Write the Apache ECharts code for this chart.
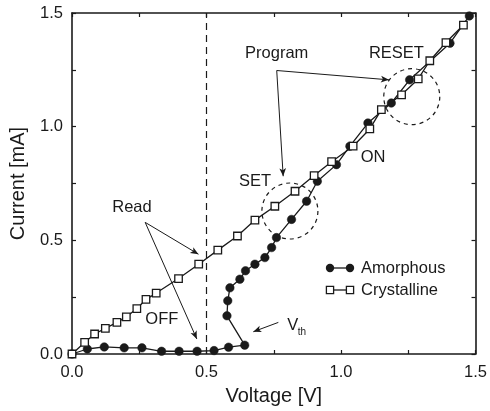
<!DOCTYPE html>
<html>
<head>
<meta charset="utf-8">
<script src="https://cdn.jsdelivr.net/npm/echarts@6/dist/echarts.min.js"></script>
<style>
  html, body { margin: 0; padding: 0; background: #fff; }
  #chart { width: 490px; height: 411px; }
</style>
</head>
<body>
<div id="chart"></div>
<script>
// I–V sweeps of a phase-change cell in its two states
const voltageAmorphous = [0, 0.057, 0.12, 0.194, 0.26, 0.333, 0.398, 0.465, 0.528, 0.582, 0.642,
  0.576, 0.579, 0.587, 0.624, 0.645, 0.68, 0.717, 0.742, 0.76, 0.816, 0.872, 0.912, 0.983,
  1.033, 1.1, 1.187, 1.255, 1.405, 1.477];
const currentAmorphous = [0, 0.022, 0.031, 0.027, 0.027, 0.012, 0.012, 0.012, 0.015, 0.03, 0.039,
  0.168, 0.234, 0.291, 0.329, 0.366, 0.395, 0.424, 0.468, 0.512, 0.592, 0.672, 0.76, 0.833,
  0.914, 1.016, 1.104, 1.206, 1.367, 1.487];

const voltageCrystalline = [0, 0.047, 0.084, 0.124, 0.167, 0.202, 0.241, 0.275, 0.313, 0.396,
  0.471, 0.542, 0.615, 0.68, 0.754, 0.829, 0.9, 0.965, 1.045, 1.107, 1.15, 1.225, 1.287, 1.33,
  1.39, 1.455];
const currentCrystalline = [0, 0.051, 0.088, 0.113, 0.139, 0.163, 0.2, 0.24, 0.268, 0.332,
  0.395, 0.457, 0.519, 0.589, 0.65, 0.716, 0.785, 0.846, 0.914, 0.99, 1.075, 1.14, 1.21, 1.29,
  1.37, 1.447];

const xTickLabels = ['0.0', '0.5', '1.0', '1.5'];
const yTickLabels = ['0.0', '0.5', '1.0', '1.5'];
const readVoltage = 0.5;

// annotation anchors, in volts / milliamps
const notes = [
  { text: 'Read', at: [0.223, 0.643] },
  { text: 'OFF', at: [0.334, 0.154] },
  { text: 'SET', at: [0.68, 0.76] },
  { text: 'Program', at: [0.761, 1.323] },
  { text: 'RESET', at: [1.206, 1.323] },
  { text: 'ON', at: [1.119, 0.863] }
];
const arrows = [
  [[0.272, 0.579], [0.47, 0.439]],
  [[0.272, 0.579], [0.464, 0.066]],
  [[0.761, 1.247], [1.178, 1.206]],
  [[0.761, 1.247], [0.785, 0.782]],
  [[0.767, 0.139], [0.674, 0.098]]
];
const rings = [[0.81, 0.629], [1.263, 1.132]];
const thresholdLabel = [0.80, 0.124];

const INK = '#1a1a1a';
const FONT = '"Liberation Sans", Arial, sans-serif';

const pairs = (xs, ys) => xs.map((x, i) => [x, ys[i]]);

const tickStyle = { color: INK, width: 1.2 };
function axisBase(extra) {
  return Object.assign({
    type: 'value', min: 0, max: 1.5, interval: 0.5,
    axisLine: { show: true, onZero: false, lineStyle: { color: INK, width: 1.6 } },
    axisTick: { show: true, inside: true, length: 4, lineStyle: tickStyle },
    minorTick: { show: true, splitNumber: 2, length: 4, lineStyle: tickStyle },
    splitLine: { show: false }
  }, extra);
}

const chart = echarts.init(document.getElementById('chart'), null, { renderer: 'canvas' });

chart.setOption({
  animation: false,
  backgroundColor: '#fff',
  grid: { left: 72, right: 14, top: 13, bottom: 56 },
  xAxis: [
    axisBase({
      position: 'bottom',
      axisLabel: {
        margin: 10, fontSize: 16.5, color: INK, fontFamily: FONT,
        formatter: v => xTickLabels[Math.round(v / 0.5)]
      },
      name: 'Voltage [V]', nameLocation: 'middle', nameGap: 32,
      nameTextStyle: { fontSize: 20, color: INK, fontFamily: FONT }
    }),
    axisBase({ position: 'top', axisLabel: { show: false } })
  ],
  yAxis: [
    axisBase({
      position: 'left',
      axisLabel: {
        margin: 9, fontSize: 16.5, color: INK, fontFamily: FONT,
        formatter: v => yTickLabels[Math.round(v / 0.5)]
      },
      name: 'Current [mA]', nameLocation: 'middle', nameGap: 44,
      nameTextStyle: { fontSize: 20, color: INK, fontFamily: FONT }
    }),
    axisBase({ position: 'right', axisLabel: { show: false } })
  ],
  series: [
    {
      name: 'read bias', type: 'line', data: [], silent: true,
      markLine: {
        silent: true, symbol: ['none', 'none'], label: { show: false },
        lineStyle: { color: INK, width: 1.2, type: [7, 5] },
        data: [{ xAxis: readVoltage }]
      }
    },
    {
      name: 'callouts', type: 'line', data: [], silent: true,
      markLine: {
        silent: true, symbol: ['none', 'arrow'], symbolSize: [5, 8], label: { show: false },
        lineStyle: { color: INK, width: 1, type: 'solid' },
        data: arrows.map(a => [{ coord: a[0] }, { coord: a[1] }])
      }
    },
    {
      name: 'Amorphous', type: 'line', data: pairs(voltageAmorphous, currentAmorphous),
      symbol: 'circle', symbolSize: 8.5,
      lineStyle: { color: INK, width: 1.3 },
      itemStyle: { color: INK, borderColor: INK, borderWidth: 0.5 }
    },
    {
      name: 'Crystalline', type: 'line', data: pairs(voltageCrystalline, currentCrystalline),
      symbol: 'rect', symbolSize: 7.5,
      lineStyle: { color: INK, width: 1.3 },
      itemStyle: { color: '#fff', borderColor: INK, borderWidth: 1.3 }
    }
  ]
});

// text labels, dashed rings and the legend, positioned through the axes
const px = p => chart.convertToPixel({ seriesIndex: 2 }, p);
const graphics = [];
notes.forEach(n => {
  const p = px(n.at);
  graphics.push({
    type: 'text', x: p[0], y: p[1], silent: true,
    style: { text: n.text, fill: INK, font: '16.5px ' + FONT, align: 'center', verticalAlign: 'middle' }
  });
});
rings.forEach(c => {
  const p = px(c);
  graphics.push({
    type: 'circle', shape: { cx: p[0], cy: p[1], r: 28 }, silent: true,
    style: { fill: 'none', stroke: INK, lineWidth: 1.2, lineDash: [4, 4] }
  });
});
const vt = px(thresholdLabel);
graphics.push({
  type: 'text', x: vt[0], y: vt[1], silent: true,
  style: { text: 'V', fill: INK, font: '16.5px ' + FONT, align: 'left', verticalAlign: 'middle' }
});
graphics.push({
  type: 'text', x: vt[0] + 10.5, y: vt[1] + 6, silent: true,
  style: { text: 'th', fill: INK, font: '10px ' + FONT, align: 'left', verticalAlign: 'middle' }
});

// legend: marker–line–marker followed by the series name
const legendRows = [
  { name: 'Amorphous', shape: 'circle' },
  { name: 'Crystalline', shape: 'rect' }
];
const legendLeft = 330, legendTop = 268, legendStep = 22;
legendRows.forEach((row, i) => {
  const y = legendTop + i * legendStep;
  graphics.push({
    type: 'line', shape: { x1: legendLeft, y1: y, x2: legendLeft + 20, y2: y }, silent: true,
    style: { stroke: INK, lineWidth: 1.3 }
  });
  [legendLeft, legendLeft + 20].forEach(cx => {
    if (row.shape === 'circle') {
      graphics.push({ type: 'circle', shape: { cx: cx, cy: y, r: 4.2 }, silent: true, style: { fill: INK } });
    } else {
      graphics.push({
        type: 'rect', shape: { x: cx - 3.6, y: y - 3.6, width: 7.2, height: 7.2 }, silent: true,
        style: { fill: '#fff', stroke: INK, lineWidth: 1.3 }
      });
    }
  });
  graphics.push({
    type: 'text', x: legendLeft + 31, y: y, silent: true,
    style: { text: row.name, fill: INK, font: '16.5px ' + FONT, align: 'left', verticalAlign: 'middle' }
  });
});

chart.setOption({ graphic: graphics });
</script>
</body>
</html>
